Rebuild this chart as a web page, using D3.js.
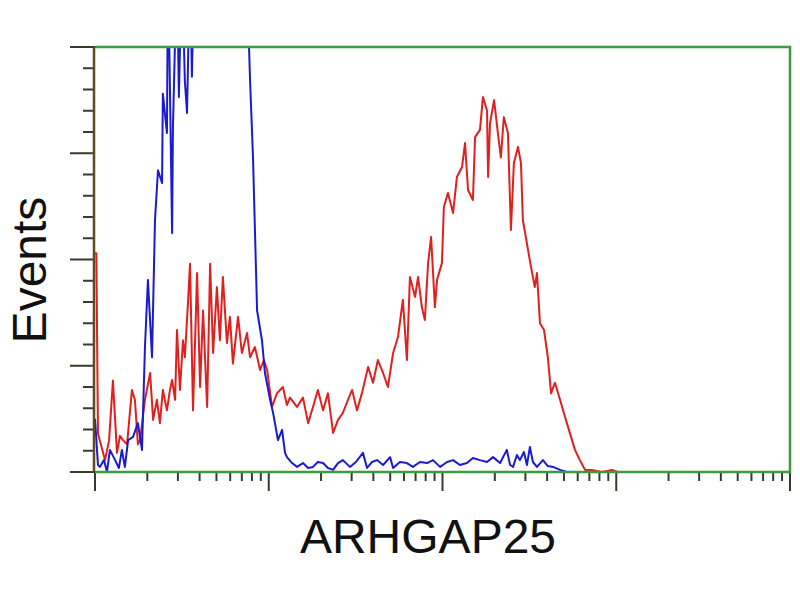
<!DOCTYPE html>
<html>
<head>
<meta charset="utf-8">
<script src="https://cdn.jsdelivr.net/npm/d3@7"></script>
<style>
  body { margin: 0; background: #fff; }
  svg { display: block; }
</style>
</head>
<body>
<div id="chart"></div>
<script>
// histogram channels (0-256, 4 log decades) and event counts
var redCh = [0, 0.5, 1.1, 3.7, 5.2, 6.6, 8.1, 9.2, 10.3, 11.8, 13.6, 14.7, 15.8, 16.6, 18.4, 20.3, 21.4, 22.8, 23.9, 25,
  26.5, 27.6, 28.4, 29.5, 30.2, 31.3, 32.4, 33.1, 34.3, 35, 36.1, 37.6, 38.7, 39.8, 41.3, 42.4, 43.5, 44.9, 46, 47.1,
  48.6, 49.7, 50.8, 52.7, 54.1, 56, 57.1, 58.9, 60.8, 62.2, 63.4, 65.2, 67, 69.2, 70.7, 71.8, 74.4, 76.6, 78.5, 80.3,
  82.1, 84, 85.8, 87.7, 89.5, 91.3, 93.2, 94.7, 96.5, 98.3, 100.6, 102.4, 104.2, 106.1, 107.9, 109.8, 111.6, 113.4, 114.9, 116,
  117.9, 119, 120.4, 121.5, 122.7, 123.8, 125.2, 126, 127.8, 128.5, 130, 131.9, 133.3, 135.2, 136.3, 137.4, 139.2, 140, 141.8, 142.9,
  144.4, 144.8, 145.5, 147, 148.4, 149.5, 150.6, 152.1, 153.2, 154.3, 155.8, 156.9, 157.6, 159.5, 160.6, 162, 162.8, 163.9, 165.4, 166.8,
  168, 169.4, 171.3, 173.1, 174.9, 176.8, 178.6, 180.5, 183, 186.7, 190.4, 192.6]
var redCount = [103, 103, 18, 5.6, 15, 43, 9, 17, 15, 13, 38.6, 34, 13, 15, 34, 46.6, 24.5, 34, 23, 38.6,
  29, 38.6, 43.3, 34, 66.8, 38.6, 62, 54, 81, 98, 29, 93.6, 40, 76, 30.6, 98, 56, 87, 62, 91.8,
  60.7, 73, 51, 73, 56, 65.4, 54, 58.8, 48, 52.7, 48, 30.6, 37, 40, 31.5, 35, 30.6, 35, 23, 30.6,
  38.6, 29, 37, 18.4, 24.5, 27.8, 34, 38.6, 29, 37, 49.4, 42, 52.7, 46.6, 40, 56, 63.5, 81, 52.7, 91.8,
  82.4, 91.8, 77.6, 71.5, 98.4, 110.6, 77.6, 90.4, 98.4, 124.7, 131.3, 121.9, 138.8, 143.5, 154.8, 132.7, 128, 157.6, 161, 176.5,
  170, 138.8, 164, 175, 159.5, 148, 167, 159.5, 113.9, 145.4, 153, 145.4, 118.6, 104.5, 96.5, 87, 93.6, 70, 66.8, 54,
  37, 42, 34, 26, 18.4, 10.4, 5.6, 1, 1, 0, 1, 0]

var blueCh = [0, 1.1, 1.8, 3.3, 4.4, 5.5, 7.4, 8.8, 9.9, 11, 12.2, 14, 15.8, 17.3, 18.4, 19.5, 21, 22.1, 23.2, 24.7,
  25, 26.5, 26.9, 28.4, 28.7, 30.2, 30.9, 32, 33.1, 33.9, 35, 35.7, 36.8, 40, 45, 50, 56, 57.1, 58.2, 59.7,
  61.5, 62.6, 64.5, 65.6, 67.4, 68.9, 70, 70.7, 72.6, 74.4, 76.6, 78.5, 80.3, 82.1, 84, 85.8, 87.7, 89.5, 91.3, 93.9,
  96.1, 98.7, 100.2, 102, 103.9, 106.1, 108.7, 109.8, 112.3, 114.9, 117.1, 119.7, 122.3, 124.5, 127.1, 129.7, 131.9, 134.4, 137, 139.2,
  141.8, 144.4, 146.6, 149.2, 151.7, 152.9, 154, 155.4, 156.5, 158, 159.1, 160.2, 161.3, 162.8, 165, 166.8, 168.7, 171.3, 173.8]
var blueCount = [25, 3.3, 2.4, 5.6, 0, 10.4, 5.6, 1.9, 10.4, 2.4, 15, 16.5, 23, 10.4, 58.8, 90.4, 54, 118.6, 142, 136,
  178, 159.5, 240, 112.5, 162, 240, 176.5, 240, 184, 169, 240, 186, 260, 300, 320, 280, 230, 185, 148, 76,
  62, 46.6, 34, 27.8, 15, 19.8, 9, 7, 4.2, 2.4, 4.2, 1.9, 2.4, 4.7, 4.2, 1.9, 1, 4.2, 5.6, 2.4,
  4.7, 9, 1.9, 4.7, 5.6, 3.3, 7, 1.9, 4.7, 4.2, 2.4, 4.7, 4.2, 5.6, 2.4, 4.7, 5.6, 3.3, 4.2, 6.6,
  5.6, 4.7, 7, 4.2, 10.4, 3.3, 2.4, 8, 5.6, 9.4, 3.3, 11.8, 4.7, 2.4, 5.6, 2.8, 2.4, 1, 0]

var xLabel = "ARHGAP25"
var yLabel = "Events"

var width = 800, height = 600
var plot = {left: 95, right: 790, top: 47, bottom: 472}

var x, y, xLog

function loadRanges() {
	x = d3.scaleLinear()
		.domain([0, 256])
		.range([plot.left, plot.right])
	// same span, in decades, for the tick marks
	xLog = d3.scaleLog()
		.domain([1, 10000])
		.range([plot.left, plot.right])
	y = d3.scaleLinear()
		.domain([0, 200])
		.range([plot.bottom, plot.top])
}

const svg = d3.select("#chart").append("svg")
	.attr("width", width)
	.attr("height", height)
	.attr("viewBox", [0, 0, width, height])

function drawAxes() {
	// left ticks, pointing out of the box
	svg.append("g")
		.attr("stroke", "#2f3f2a")
		.attr("stroke-width", 2)
		.selectAll("line")
		.data(y.ticks(20))
		.join("line")
			.attr("x1", d => d % 50 == 0 ? plot.left - 25 : plot.left - 12)
			.attr("x2", plot.left)
			.attr("y1", d => y(d))
			.attr("y2", d => y(d))

	// bottom ticks, one decade per major
	svg.append("g")
		.attr("stroke", "#2f3f2a")
		.attr("stroke-width", 2)
		.selectAll("line")
		.data(xLog.ticks())
		.join("line")
			.attr("x1", d => xLog(d))
			.attr("x2", d => xLog(d))
			.attr("y1", plot.bottom)
			.attr("y2", d => Math.log10(d) % 1 == 0 ? plot.bottom + 19 : plot.bottom + 9)
}

function drawCurves() {
	svg.append("clipPath").attr("id", "clip")
		.append("rect")
		.attr("x", plot.left)
		.attr("y", plot.top)
		.attr("width", plot.right - plot.left)
		.attr("height", plot.bottom - plot.top)

	var line = d3.line()
		.x(d => x(d[0]))
		.y(d => y(d[1]))

	var g = svg.append("g").attr("clip-path", "url(#clip)")
		.attr("fill", "none")
		.attr("stroke-width", 2)
		.attr("stroke-linejoin", "round")

	g.append("path")
		.datum(d3.zip(redCh, redCount))
		.attr("stroke", "#e0201e")
		.attr("d", line)

	g.append("path")
		.datum(d3.zip(blueCh, blueCount))
		.attr("stroke", "#1a1ad0")
		.attr("d", line)
}

function drawFrame() {
	var f = svg.append("g").attr("fill", "none").attr("stroke-width", 2.5)
	f.append("path")
		.attr("stroke", "#3e9a3e")
		.attr("d", `M${plot.left},${plot.top}H${plot.right}V${plot.bottom}H${plot.left}`)
	f.append("line")
		.attr("stroke", "#5e4a1e")
		.attr("x1", plot.left - 1).attr("x2", plot.left - 1)
		.attr("y1", plot.top).attr("y2", plot.bottom)
}

function drawLabels() {
	svg.append("text")
		.attr("x", 428)
		.attr("y", 553)
		.attr("text-anchor", "middle")
		.attr("font-family", "Liberation Sans, Arial, sans-serif")
		.attr("font-size", 48)
		.attr("fill", "#111")
		.text(xLabel)

	svg.append("text")
		.attr("transform", `translate(46,270) rotate(-90)`)
		.attr("text-anchor", "middle")
		.attr("font-family", "Liberation Sans, Arial, sans-serif")
		.attr("font-size", 48)
		.attr("fill", "#111")
		.text(yLabel)
}

loadRanges()
drawAxes()
drawCurves()
drawFrame()
drawLabels()
</script>
</body>
</html>
